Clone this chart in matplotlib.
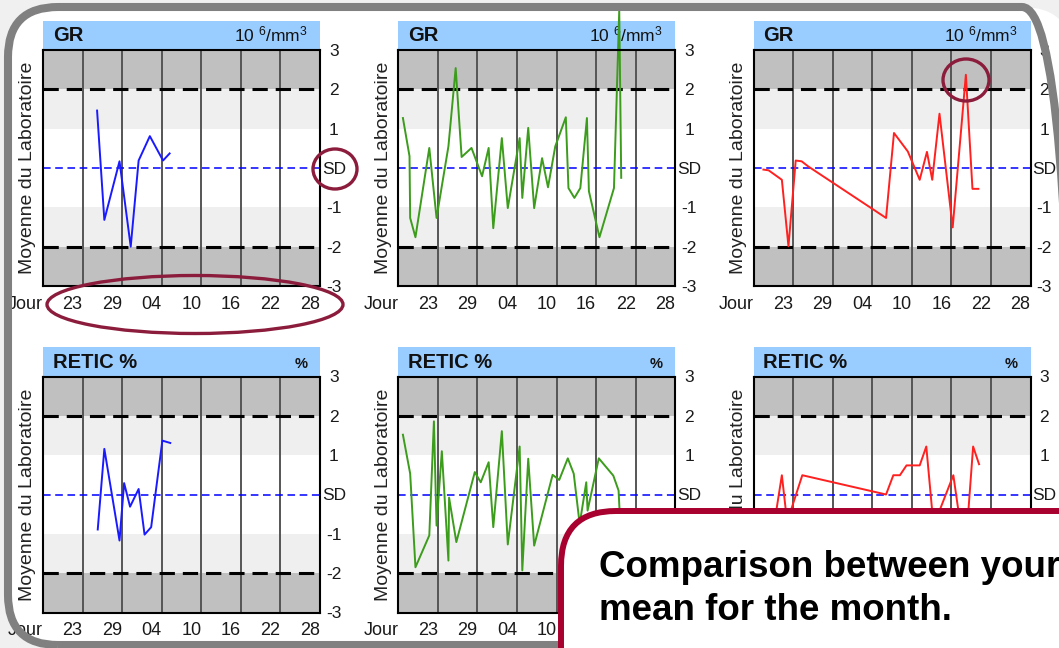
import numpy as np
import matplotlib.pyplot as plt
from matplotlib.patches import Rectangle, Ellipse, FancyBboxPatch
from matplotlib.transforms import IdentityTransform

plt.rcParams['font.family'] = ['Liberation Sans', 'DejaVu Sans']
plt.rcParams['mathtext.fontset'] = 'custom'
plt.rcParams['mathtext.rm'] = 'Liberation Sans'
plt.rcParams['mathtext.default'] = 'rm'

# eje x: dias (0 = borde izquierdo), eje y: desviaciones
dias = ['Jour', '23', '29', '04', '10', '16', '22', '28']
pos_dias = [0, 6, 12, 18, 24, 30, 36, 42]
niveles = [3, 2, 1, 0, -1, -2, -3]
etiq_niveles = ['3', '2', '1', 'SD', '-1', '-2', '-3']

# GR - laboratorio 1 (azul)
gr_x_1 = [8.2, 9.3, 11.6, 13.3, 14.5, 16.2, 18.2, 19.2]
gr_y_1 = [1.46, -1.32, 0.17, -2.0, 0.19, 0.81, 0.19, 0.37]

# GR - laboratorio 2 (verde)
gr_x_2 = [0.7, 1.7, 1.8, 2.6, 4.7, 5.8, 7.6, 8.7, 9.6, 11.1, 12.7, 13.7, 14.4, 15.7, 16.6, 18.4,
          18.8, 19.7, 20.6, 21.8, 22.7, 23.8, 25.4, 25.8, 26.7, 27.6, 28.6, 28.9, 30.5, 32.7, 33.5, 33.8]
gr_y_2 = [1.27, 0.30, -1.27, -1.76, 0.51, -1.27, 0.55, 2.54, 0.28, 0.51, -0.21, 0.51, -1.53, 0.76, -1.02, 0.76,
          -0.76, 1.02, -1.02, 0.25, -0.49, 0.55, 1.29, -0.51, -0.76, -0.51, 1.27, -0.59, -1.76, -0.51, 4.0, -0.25]

# GR - laboratorio 3 (rojo)
gr_x_3 = [1.5, 2.3, 4.3, 5.3, 6.4, 7.3, 8.3, 20.1, 21.3, 23.4, 25.2, 26.3, 27.1, 28.2, 30.2, 32.2, 33.2, 34.1]
gr_y_3 = [-0.04, -0.06, -0.30, -1.99, 0.19, 0.17, 0.04, -1.27, 0.89, 0.42, -0.30, 0.41, -0.30, 1.38, -1.51, 2.37, -0.53, -0.53]

# RETIC % - laboratorio 1
retic_x_1 = [8.3, 9.3, 11.6, 12.3, 13.2, 14.5, 15.4, 16.4, 18.1, 19.3]
retic_y_1 = [-0.89, 1.16, -1.17, 0.29, -0.31, 0.14, -1.02, -0.83, 1.37, 1.31]

# RETIC % - laboratorio 2
retic_x_2 = [0.7, 1.8, 2.6, 4.7, 5.4, 5.8, 6.6, 7.6, 7.7, 8.8, 11.6, 12.5, 13.7, 14.4, 15.7, 16.6,
             18.4, 18.8, 19.7, 20.6, 23.4, 24.4, 25.7, 26.6, 27.5, 28.5, 28.7, 30.4, 32.6, 33.4, 33.6]
retic_y_2 = [1.52, 0.53, -1.85, -1.04, 1.86, -0.79, 1.10, -1.68, -0.08, -1.21, 0.57, 0.31, 0.82, -0.83, 1.61, -1.27,
             1.22, -1.93, 0.91, -1.30, 0.50, 0.37, 0.92, 0.53, -0.75, 0.31, -0.41, 0.92, 0.48, 0.10, -0.58]

# RETIC % - laboratorio 3
retic_x_3 = [3.0, 4.3, 5.1, 7.4, 20.1, 21.2, 22.2, 23.2, 25.2, 26.2, 27.3, 30.3, 31.4, 32.5, 33.3, 34.2]
retic_y_3 = [-0.9, 0.49, -0.7, 0.49, 0.0, 0.49, 0.49, 0.74, 0.74, 1.22, -0.8, 0.49, -0.8, -0.6, 1.22, 0.77]

W, H = 1059, 648
fig = plt.figure(figsize=(W / 100, H / 100), dpi=100)
fig.patch.set_facecolor('#f0f0f0')

# marco gris redondeado (fondo blanco abajo, borde encima)
fondo = FancyBboxPatch((8, 3), 1064, 638, boxstyle='round,pad=0,rounding_size=50',
                       transform=IdentityTransform(), facecolor='white', edgecolor='none', zorder=-5)
fig.add_artist(fondo)
marco = FancyBboxPatch((8, 3), 1064, 638, boxstyle='round,pad=0,rounding_size=50',
                       transform=IdentityTransform(), facecolor='none', edgecolor='#808080', lw=5.8, zorder=15)
fig.add_artist(marco)


def panel(ax, x, y, color, titulo, unidad):
    ax.set_xlim(0, 42)
    ax.set_ylim(-3, 3)
    ax.set_facecolor('white')
    # bandas de fondo
    ax.axhspan(2, 3, color='#c0c0c0', lw=0, zorder=0)
    ax.axhspan(-3, -2, color='#c0c0c0', lw=0, zorder=0)
    ax.axhspan(1, 2, color='#efefef', lw=0, zorder=0)
    ax.axhspan(-2, -1, color='#efefef', lw=0, zorder=0)
    for d in pos_dias[1:-1]:
        ax.axvline(d, color='#555555', lw=1.4, zorder=1)
    ax.axhline(2, color='black', lw=2.2, dashes=(5, 2.6), zorder=2)
    ax.axhline(-2, color='black', lw=2.2, dashes=(5, 2.6), zorder=2)
    ax.axhline(0, color='#0000ff', lw=1.1, dashes=(5, 3), zorder=2)
    ax.plot(x, y, color=color, lw=1.4, clip_on=False, zorder=5)

    # cabecera azul
    ax.add_patch(Rectangle((0, 1), 1, 0.123, transform=ax.transAxes, facecolor='#99ccff',
                           lw=0, clip_on=False, zorder=1))
    ax.text(0.036, 1.06, titulo, transform=ax.transAxes, fontsize=14.5, fontweight='bold',
            va='center', ha='left', zorder=3, color='#111111')
    if unidad == '%':
        ax.text(0.955, 1.055, unidad, transform=ax.transAxes, fontsize=10.5, fontweight='bold',
                va='center', ha='right', zorder=3, color='#111111')
    else:
        ax.text(0.955, 1.065, unidad, transform=ax.transAxes, fontsize=12.5,
                va='center', ha='right', zorder=3, color='#111111')

    ax.text(-0.055, 0.5, 'Moyenne du Laboratoire', transform=ax.transAxes, rotation=90,
            ha='center', va='center', fontsize=14, color='#222222')

    ax.yaxis.tick_right()
    ax.set_yticks(niveles)
    ax.set_yticklabels(etiq_niveles, ha='center')
    ax.tick_params(axis='y', length=0, pad=10, labelsize=12.5, labelcolor='#1a1a1a')
    ax.set_xticks(pos_dias)
    ax.set_xticklabels(dias, ha='right')
    ax.tick_params(axis='x', length=0, pad=7, labelsize=13, labelcolor='#1a1a1a')
    for s in ax.spines.values():
        s.set_color('black')
        s.set_linewidth(1.5)
        s.set_zorder(6)


izq = [43 / W, 398.3 / W, 753.5 / W]
ancho = 277 / W
alto = 236 / H
abajo = [1 - 286 / H, 1 - 612.5 / H]

unidad_gr = r'10 $^{6}$/mm$^{3}$'
series_gr = [(gr_x_1, gr_y_1, '#1a1aff'), (gr_x_2, gr_y_2, '#3c9c1c'), (gr_x_3, gr_y_3, '#ff2020')]
series_retic = [(retic_x_1, retic_y_1, '#1a1aff'), (retic_x_2, retic_y_2, '#3c9c1c'), (retic_x_3, retic_y_3, '#ff2020')]

for i in range(3):
    ax = fig.add_axes([izq[i], abajo[0], ancho, alto])
    x, y, c = series_gr[i]
    panel(ax, x, y, c, 'GR', unidad_gr)
    ax = fig.add_axes([izq[i], abajo[1], ancho, alto])
    x, y, c = series_retic[i]
    panel(ax, x, y, c, 'RETIC %', '%')

# elipses rojas de anotacion (centro x, centro y desde arriba, ancho, alto en pixeles)
elipses = [(335, 169, 44, 40), (195, 304.5, 296, 58), (966, 80, 46, 42)]
for cx, cy, ew, eh in elipses:
    fig.add_artist(Ellipse((cx / W, 1 - cy / H), ew / W, eh / H, transform=fig.transFigure,
                           facecolor='none', edgecolor='#8c1c3c', lw=2.4, zorder=12))

# cuadro de texto
caja = FancyBboxPatch((561, -60), 600, 197, boxstyle='round,pad=0,rounding_size=55',
                      transform=IdentityTransform(), facecolor='white', edgecolor='#a8002f', lw=4.3, zorder=20)
fig.add_artist(caja)
fig.text(599 / W, 71 / H, 'Comparison between your', fontsize=26.5, fontweight='bold',
         va='baseline', ha='left', zorder=21)
fig.text(599 / W, 28 / H, 'mean for the month.', fontsize=26.5, fontweight='bold',
         va='baseline', ha='left', zorder=21)

fig.savefig('out.png', dpi=100, facecolor=fig.get_facecolor())
